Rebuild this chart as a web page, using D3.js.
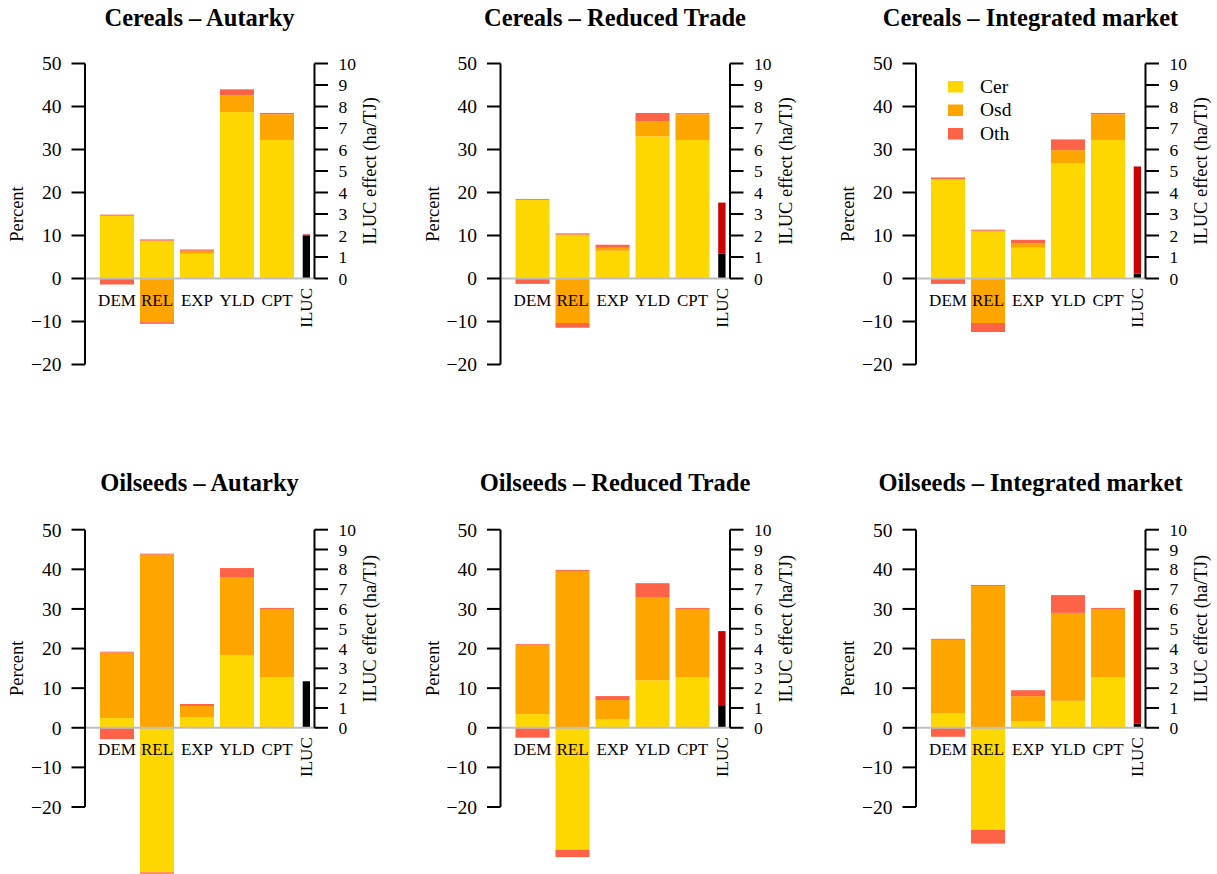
<!DOCTYPE html>
<html>
<head>
<meta charset="utf-8">
<script src="https://cdn.jsdelivr.net/npm/d3@7"></script>
<style>
  html, body { margin: 0; padding: 0; background: #ffffff; }
  svg { display: block; }
  text { font-family: "Liberation Serif", "Times New Roman", serif; fill: #000; }
</style>
</head>
<body>
<script>
// ---------------- DATA ----------------
const categories = ["DEM", "REL", "EXP", "YLD", "CPT"];
const crops = ["Cereals", "Oilseeds"];
const scenarios = ["Autarky", "Reduced Trade", "Integrated market"];
const seriesNames = ["Cer", "Osd", "Oth"];
const leftTicks = [-20, -10, 0, 10, 20, 30, 40, 50];
const rightTicks = [0, 1, 2, 3, 4, 5, 6, 7, 8, 9, 10];

// one row per panel (Cereals: Autarky, Reduced, Integrated; Oilseeds: Autarky, Reduced, Integrated)
const cerPos = [
  [14.6, 8.8, 5.75, 38.7, 32.2],
  [18.3, 10.2, 6.45, 33.05, 32.2],
  [23.1, 11.1, 7.15, 26.75, 32.2],
  [2.45, 0, 2.7, 18.35, 12.8],
  [3.45, 0, 2.2, 12.0, 12.8],
  [3.7, 0, 1.68, 6.8, 12.8]
];
const osdPos = [
  [0, 0, 0.7, 3.9, 6.0],
  [0, 0, 0.7, 3.5, 6.0],
  [0, 0, 1.0, 3.1, 6.0],
  [16.5, 43.7, 2.8, 19.7, 17.2],
  [17.4, 39.6, 4.8, 21.0, 17.2],
  [18.5, 35.8, 6.3, 22.2, 17.2]
];
const othPos = [
  [0.25, 0.3, 0.3, 1.4, 0.3],
  [0.2, 0.3, 0.7, 1.95, 0.25],
  [0.4, 0.25, 0.85, 2.5, 0.3],
  [0.25, 0.25, 0.5, 2.27, 0.25],
  [0.25, 0.25, 1.0, 3.5, 0.25],
  [0.25, 0.25, 1.5, 4.5, 0.25]
];
const cerNeg = [
  [0, 0, 0, 0, 0],
  [0, 0, 0, 0, 0],
  [0, 0, 0, 0, 0],
  [0, -36.5, 0, 0, 0],
  [0, -30.8, 0, 0, 0],
  [0, -25.75, 0, 0, 0]
];
const osdNeg = [
  [0, -10.15, 0, 0, 0],
  [0, -10.35, 0, 0, 0],
  [0, -10.35, 0, 0, 0],
  [0, 0, 0, 0, 0],
  [0, 0, 0, 0, 0],
  [0, 0, 0, 0, 0]
];
const othNeg = [
  [-1.4, -0.4, 0, 0, 0],
  [-1.25, -1.1, 0, 0, 0],
  [-1.25, -2.1, 0, 0, 0],
  [-2.86, -0.35, 0, 0, 0],
  [-2.5, -1.85, 0, 0, 0],
  [-2.27, -3.5, 0, 0, 0]
];
// ILUC effect (ha/TJ): lower (black) and upper (red) parts
const ilucLow = [2.0, 1.15, 0.22, 2.31, 1.14, 0.2];
const ilucHigh = [0.05, 2.38, 4.99, 0.05, 3.74, 6.75];

// ---------------- STYLE / LAYOUT ----------------
const colors = { Cer: "#FFD700", Osd: "#FFA500", Oth: "#FF6347" };
const ilucColors = ["#000000", "#CD0000"];
const W = 1217, H = 874;
const panelX = [85, 500.5, 916];               // x of left axis per column
const rowY = [{ top: 63.5, bottom: 364.5, title: 25.7 },
              { top: 529.7, bottom: 807, title: 490.7 }];

const svg = d3.select("body").append("svg")
  .attr("width", W).attr("height", H)
  .attr("viewBox", `0 0 ${W} ${H}`);

const posSeries = [cerPos, osdPos, othPos];
const negSeries = [cerNeg, osdNeg, othNeg];

crops.forEach((crop, r) => {
  scenarios.forEach((scen, c) => {
    const p = r * 3 + c;
    const g = svg.append("g").attr("transform", `translate(${panelX[c]},0)`);
    const y = d3.scaleLinear().domain([-20, 50]).range([rowY[r].bottom, rowY[r].top]);
    const yR = d3.scaleLinear().domain([0, 10]).range([y(0), y(50)]);
    // x in bar units: 1 unit = 40px
    const x = d3.scaleLinear().domain([0, 1]).range([15, 55]);
    const barW = 0.85;
    const ilucX0 = 5.068, ilucW = 0.183, rightAxisU = 5.362;
    const xr = x(rightAxisU);

    // stacked segments
    const segs = [];
    categories.forEach((cat, i) => {
      let acc = 0;
      seriesNames.forEach((s, k) => {
        const v = posSeries[k][p][i];
        if (v > 0) { segs.push({ i, s, y0: acc, y1: acc + v }); acc += v; }
      });
      acc = 0;
      seriesNames.forEach((s, k) => {
        const v = negSeries[k][p][i];
        if (v < 0) { segs.push({ i, s, y0: acc + v, y1: acc }); acc += v; }
      });
    });
    g.selectAll("rect.seg").data(segs).join("rect")
      .attr("class", "seg")
      .attr("x", d => x(d.i))
      .attr("width", d => x(d.i + barW) - x(d.i))
      .attr("y", d => y(d.y1))
      .attr("height", d => y(d.y0) - y(d.y1))
      .attr("fill", d => colors[d.s]);

    // ILUC bar
    const ilucSegs = [
      { y0: 0, y1: ilucLow[p], col: ilucColors[0] },
      { y0: ilucLow[p], y1: ilucLow[p] + ilucHigh[p], col: ilucColors[1] }
    ];
    g.selectAll("rect.iluc").data(ilucSegs).join("rect")
      .attr("class", "iluc")
      .attr("x", x(ilucX0))
      .attr("width", x(ilucX0 + ilucW) - x(ilucX0))
      .attr("y", d => yR(d.y1))
      .attr("height", d => yR(d.y0) - yR(d.y1))
      .attr("fill", d => d.col);

    // zero line
    g.append("line")
      .attr("x1", 0).attr("x2", xr)
      .attr("y1", y(0)).attr("y2", y(0))
      .attr("stroke", "#BEBEBE").attr("stroke-width", 2);

    // left axis
    const la = g.append("g");
    la.append("line").attr("x1", 0).attr("x2", 0)
      .attr("y1", y(50)).attr("y2", y(-20))
      .attr("stroke", "#000").attr("stroke-width", 2);
    la.selectAll("line.t").data(leftTicks).join("line").attr("class", "t")
      .attr("x1", -13.5).attr("x2", 0)
      .attr("y1", d => y(d)).attr("y2", d => y(d))
      .attr("stroke", "#000").attr("stroke-width", 2);
    la.selectAll("text").data(leftTicks).join("text")
      .attr("x", -23.5).attr("y", d => y(d)).attr("dy", "0.35em")
      .attr("text-anchor", "end").style("font-size", "19.5px")
      .text(d => d < 0 ? "\u2212" + Math.abs(d) : d);

    // right axis
    const ra = g.append("g");
    ra.append("line").attr("x1", xr).attr("x2", xr)
      .attr("y1", yR(10)).attr("y2", yR(0))
      .attr("stroke", "#000").attr("stroke-width", 2);
    ra.selectAll("line.t").data(rightTicks).join("line").attr("class", "t")
      .attr("x1", xr).attr("x2", xr + 13.5)
      .attr("y1", d => yR(d)).attr("y2", d => yR(d))
      .attr("stroke", "#000").attr("stroke-width", 2);
    ra.selectAll("text").data(rightTicks).join("text")
      .attr("x", xr + 24).attr("y", d => yR(d)).attr("dy", "0.35em")
      .attr("text-anchor", "start").style("font-size", "17.5px")
      .text(d => d);

    // category labels
    g.selectAll("text.cat").data(categories).join("text").attr("class", "cat")
      .attr("x", (d, i) => x(i + barW / 2)).attr("y", y(0) + 27.3)
      .attr("text-anchor", "middle").style("font-size", "17px")
      .text(d => d);
    g.append("text")
      .attr("transform", `translate(${x(ilucX0 + ilucW / 2) + 6},${y(0) + 9.5}) rotate(-90)`)
      .attr("text-anchor", "end").style("font-size", "17px")
      .text("ILUC");

    // axis titles
    g.append("text")
      .attr("transform", `translate(-62,${(y(50) + y(-20)) / 2}) rotate(-90)`)
      .attr("text-anchor", "middle").style("font-size", "18.5px")
      .text("Percent");
    g.append("text")
      .attr("transform", `translate(${xr + 62},${(yR(0) + yR(10)) / 2}) rotate(-90)`)
      .attr("text-anchor", "middle").style("font-size", "18.5px")
      .text("ILUC effect (ha/TJ)");

    // panel title
    g.append("text")
      .attr("x", 114.5).attr("y", rowY[r].title)
      .attr("text-anchor", "middle")
      .style("font-size", "24.5px").style("font-weight", "bold")
      .text(`${crop} \u2013 ${scen}`);

    // legend (Cereals – Integrated market panel)
    if (p === 2) {
      const lg = g.append("g");
      seriesNames.forEach((s, k) => {
        lg.append("rect")
          .attr("x", 32).attr("y", y(50) + 17.5 + k * 23.5)
          .attr("width", 15).attr("height", 11.5)
          .attr("fill", colors[s]);
        lg.append("text")
          .attr("x", 64).attr("y", y(50) + 29 + k * 23.5)
          .style("font-size", "19.5px")
          .text(s);
      });
    }
  });
});
</script>
</body>
</html>
